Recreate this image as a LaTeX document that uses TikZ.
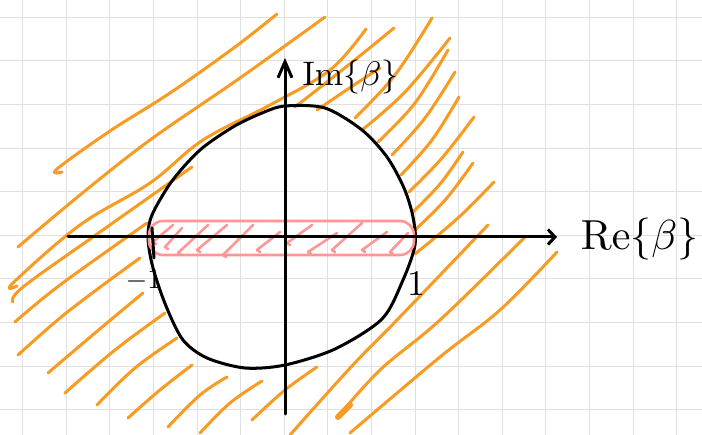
\documentclass[tikz,border=0pt]{standalone}
\usetikzlibrary{arrows.meta}
\definecolor{hatchorange}{RGB}{247,155,35}
\definecolor{hatchpink}{RGB}{255,150,150}
\definecolor{gridgray}{RGB}{224,224,224}
\tikzset{
  gridline/.style={draw=gridgray, line width=1pt},
  hatch/.style={draw=hatchorange, line width=3pt, line cap=round, line join=round},
  pinkhatch/.style={draw=hatchpink, line width=2.6pt, line cap=round, line join=round},
  ink/.style={draw=black, line width=3pt, line cap=round, line join=round},
  label/.style={inner sep=0pt, text=black}
}
\begin{document}
\begin{tikzpicture}[x=1pt,y=-1pt]
\useasboundingbox (0,0) rectangle (702,435);
\fill[white] (0,0) rectangle (702,435);
% grid paper
\foreach \i in {0,...,15} \draw[gridline] ({22.7+43.6*\i},0) -- ({22.7+43.6*\i},435);
\foreach \j in {0,...,9} \draw[gridline] (0,{17.3+43.6*\j}) -- (702,{17.3+43.6*\j});

% orange hatching, upper left
\draw[hatch] plot[smooth, tension=0.6] coordinates {(62,172) (57,169) (110,131) (170,93) (235,47) (277,14)};
\draw[hatch] plot[smooth, tension=0.6] coordinates {(18,247) (80,195) (150,140) (240,78) (325,17)};
\draw[hatch] plot[smooth, tension=0.6] coordinates {(17,286) (13,283) (80,225) (150,183) (203,140) (270,105) (330,70) (366,29)};
\draw[hatch] plot[smooth, tension=0.6] coordinates {(295,107) (351,63) (394,28)};
\draw[hatch] plot[smooth, tension=0.6] coordinates {(317,110) (351,87) (380,68)};
% upper right
\draw[hatch] plot[smooth, tension=0.6] coordinates {(355,118) (395,75) (432,18)};
\draw[hatch] plot[smooth, tension=0.6] coordinates {(362,130) (405,92) (450,38)};
\draw[hatch] plot[smooth, tension=0.6] coordinates {(378,142) (415,103) (448,50)};
\draw[hatch] plot[smooth, tension=0.6] coordinates {(392,155) (425,118) (455,72)};
\draw[hatch] plot[smooth, tension=0.6] coordinates {(401,175) (432,140) (459,97)};
\draw[hatch] plot[smooth, tension=0.6] coordinates {(409,192) (442,158) (474,117)};
\draw[hatch] plot[smooth, tension=0.6] coordinates {(413,212) (440,184) (463,152)};
\draw[hatch] plot[smooth, tension=0.6] coordinates {(415,230) (446,199) (473,163)};
\draw[hatch] plot[smooth, tension=0.6] coordinates {(415,254) (458,218) (494,182)};
% lower left
\draw[hatch] plot[smooth, tension=0.6] coordinates {(13,302) (23,287) (100,232) (192,167)};
\draw[hatch] plot[smooth, tension=0.6] coordinates {(15,322) (60,285) (147,223)};
\draw[hatch] plot[smooth, tension=0.6] coordinates {(18,355) (60,318) (103,285) (140,258)};
\draw[hatch] plot[smooth, tension=0.6] coordinates {(48,373) (95,333) (143,293)};
\draw[hatch] plot[smooth, tension=0.6] coordinates {(65,393) (115,350) (165,313)};
\draw[hatch] plot[smooth, tension=0.6] coordinates {(97,405) (135,368) (177,338)};
\draw[hatch] plot[smooth, tension=0.6] coordinates {(128,418) (160,390) (192,365)};
\draw[hatch] plot[smooth, tension=0.6] coordinates {(168,427) (200,395) (227,377)};
\draw[hatch] plot[smooth, tension=0.6] coordinates {(200,433) (230,403) (262,381)};
\draw[hatch] plot[smooth, tension=0.6] coordinates {(252,420) (285,390) (317,367)};
% lower right
\draw[hatch] plot[smooth, tension=0.6] coordinates {(290,435) (351,367) (397,320) (488,225)};
\draw[hatch] plot[smooth, tension=0.6] coordinates {(337,418) (380,370) (440,320) (525,237)};
\draw[hatch, line width=6pt] (338,417) -- (350,405);
\draw[hatch] plot[smooth, tension=0.6] coordinates {(350,433) (440,357) (500,310) (557,252)};

% boundary curve
\draw[ink] plot[smooth cycle, tension=0.5] coordinates {(285,106) (325,108) (362,130) (387,157) (404,188) (413,217) (415,245) (403,280) (382,319) (335,349) (285,365) (245,368) (207,358) (183,340) (166,306) (153,268) (148,238) (152,215) (172,181) (200,150) (233,127) (262,113)};

% pink strip with hatching
\draw[pinkhatch, rounded corners=14pt] (149,221) rectangle (414,255);
\foreach \xa/\ya/\xb/\yb in {153/242/173/225, 165/247/182/228, 178/253/208/225, 197/250/227/225, 223/255/253/225, 257/250/280/232, 287/243/312/225, 308/252/337/233, 332/250/362/223, 362/250/387/232, 390/252/408/233}
  \draw[pinkhatch] (\xa+3,\ya+2) -- (\xa,\ya) -- (\xb,\yb);

% axes
\coordinate (xl) at (68,237);
\coordinate (xr) at (557,237);
\coordinate (yb) at (285,414);
\coordinate (yt) at (285,58);
\draw[ink, -{Straight Barb[length=7pt,width=15pt,line width=3pt]}] (xl) -- (xr);
\draw[ink, -{Straight Barb[length=16pt,width=14pt,line width=3pt]}] (yb) -- (yt);
\draw[ink] (152,228) -- (154,258);

% labels
\node[label, scale=3.4, anchor=base west] (imlab) at (302,86) {$\mathrm{Im}\{\beta\}$};
\node[label, scale=4.2, anchor=base west] (relab) at (580,250) {$\mathrm{Re}\{\beta\}$};
\node[label, scale=2.8, anchor=base west] (mone) at (125,289) {$-1$};
\node[label, scale=3.6, anchor=base] (pone) at (416,296) {$1$};
\end{tikzpicture}
\end{document}
